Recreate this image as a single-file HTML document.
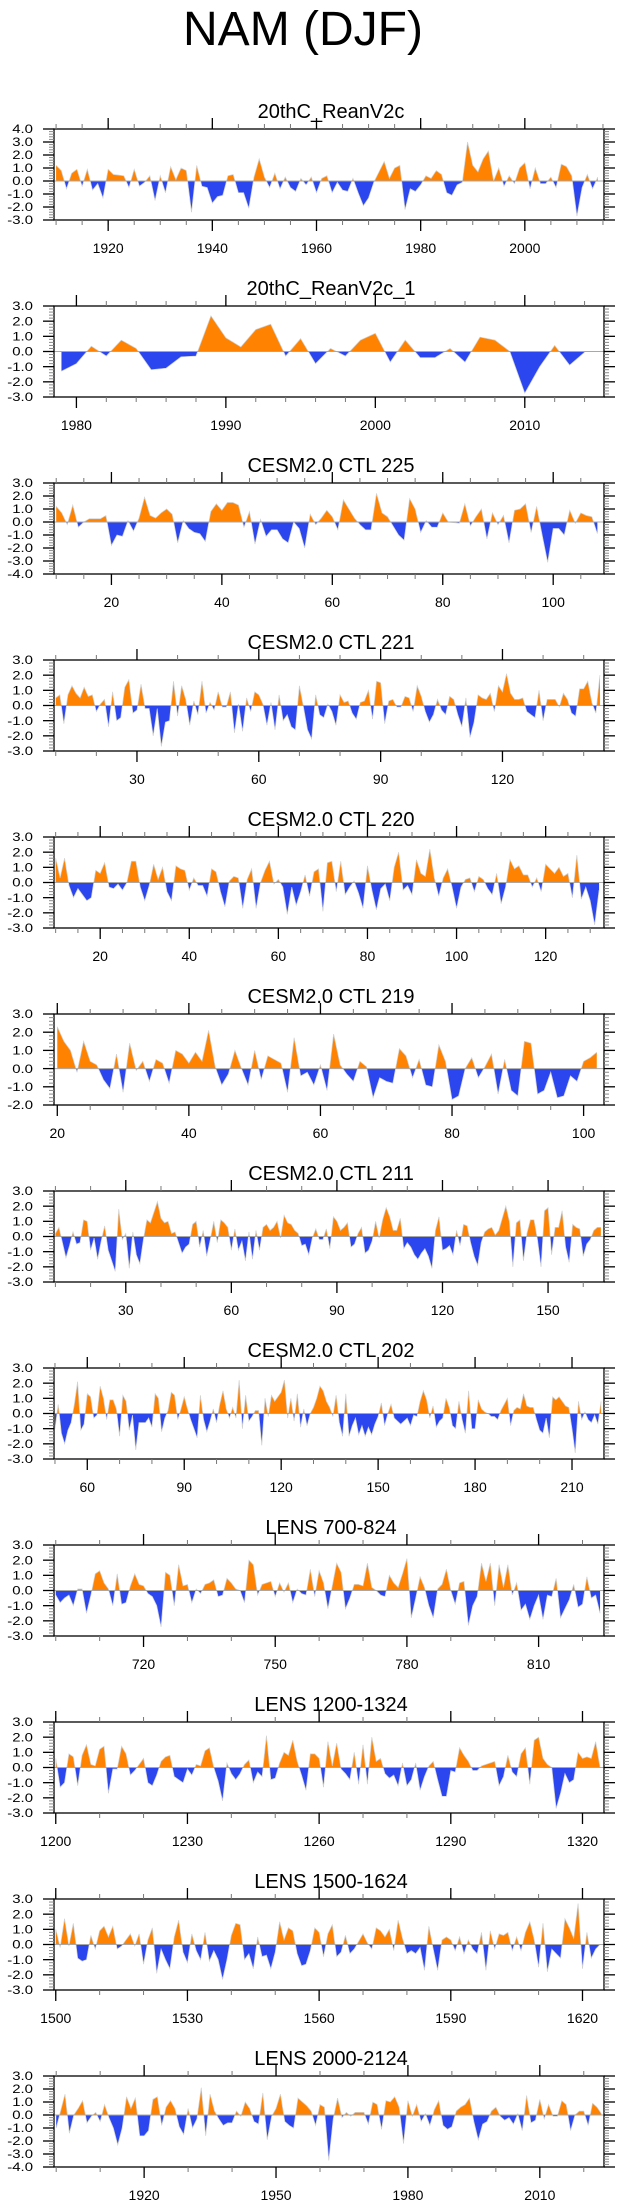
<!DOCTYPE html>
<html><head><meta charset="utf-8"><title>NAM (DJF)</title>
<style>
html,body{margin:0;padding:0;background:#fff;}
svg{display:block;font-family:"Liberation Sans",Arial,sans-serif;}
</style></head>
<body>
<svg id="fig" width="623" height="2209" viewBox="0 0 623 2209" xmlns="http://www.w3.org/2000/svg">
<text x="303" y="45" font-size="48" text-anchor="middle" fill="#000">NAM (DJF)</text>
</svg>
<script>
const titles = ["20thC_ReanV2c","20thC_ReanV2c_1","CESM2.0 CTL 225","CESM2.0 CTL 221","CESM2.0 CTL 220","CESM2.0 CTL 219","CESM2.0 CTL 211","CESM2.0 CTL 202","LENS 700-824","LENS 1200-1324","LENS 1500-1624","LENS 2000-2124"];
const startX = [1910,1979,10,10,10,20,10,50,700,1200,1500,1900];
const xMins = [1909.6,1978.5,9.6,9.57,9.63,19.5,9.6,49.7,699.6,1199.6,1499.6,1899.5];
const xMaxs = [2015.2,2015.3,109.2,145,133.1,103.1,165.9,219.9,824.9,1324.9,1624.9,2024.6];
const yMins = [-3,-3,-4,-3,-3,-2,-3,-3,-3,-3,-3,-4];
const yMaxs = [4,3,3,3,3,3,3,3,3,3,3,3];
const xLabels1 = [1920,1940,1960,1980,2000];
const xLabels2 = [1980,1990,2000,2010];
const xLabels3 = [20,40,60,80,100];
const xLabels4 = [30,60,90,120];
const xLabels5 = [20,40,60,80,100,120];
const xLabels6 = [20,40,60,80,100];
const xLabels7 = [30,60,90,120,150];
const xLabels8 = [60,90,120,150,180,210];
const xLabels9 = [720,750,780,810];
const xLabels10 = [1200,1230,1260,1290,1320];
const xLabels11 = [1500,1530,1560,1590,1620];
const xLabels12 = [1920,1950,1980,2010];
const minorSteps = [5,2,5,10,5,5,10,10,10,10,10,10];

const vals1 = [1.2,0.8,-0.6,0.6,0.9,-0.4,0.9,-0.7,-0.2,-1.3,
0.9,0.5,0.45,0.4,-0.5,0.9,-0.4,-0.1,0.4,-1.5,
0.4,-0.9,1.1,0.1,1.0,0.8,-2.4,1.2,-0.4,-0.5,
-1.7,-1.2,-1.1,0.4,0.5,-0.9,-0.9,-2.1,0.3,1.7,
0.3,-0.5,0.6,-0.6,0.3,-0.5,-0.8,0.2,-0.3,0.3,
-0.9,0.2,0.4,-0.9,-0.1,-0.7,-0.8,0.2,-0.9,-1.9,
-1.3,-0.1,0.7,1.5,0.2,1.0,1.2,-2.2,-0.6,-0.8,
-0.3,0.4,0.2,0.8,0.5,-0.9,-1.1,-0.3,-0.1,3.0,
1.2,0.7,1.7,2.3,0.0,1.0,-0.4,0.4,-0.2,1.0,
1.4,-0.6,1.0,-0.2,-0.2,0.3,-0.5,1.3,1.1,0.4,
-2.7,-0.5,0.5,-0.6,0.3];
const vals2 = [-1.3,-0.8,0.35,-0.3,0.75,0.2,-1.2,-1.1,-0.35,-0.3,2.35,0.9,0.3,1.45,1.8,-0.3,0.85,-0.8,0.2,-0.3,0.75,1.2,-0.7,0.75,-0.4,-0.4,0.2,-0.7,0.95,0.75,0.0,-2.75,-1.0,0.4,-0.9,-0.05];
const vals3 = [1.2,0.7,-0.2,1.3,-0.4,0.0,0.25,0.25,0.25,0.5,
-1.8,-1.0,-1.1,0.1,-0.7,0.3,1.9,0.5,0.3,0.7,
1.0,0.6,-1.6,0.1,-0.5,-0.8,-0.9,-1.5,0.8,1.4,
0.9,1.5,1.5,1.3,-0.4,0.8,-1.7,0.2,-1.1,-0.6,
-0.6,-1.3,-1.6,0.0,-0.5,-2.0,0.6,-0.2,0.3,0.9,
0.4,-0.6,1.7,1.0,0.3,-0.2,-0.6,-0.6,2.2,0.7,
0.4,-0.3,-1.0,-1.4,1.8,1.0,-0.8,0.1,-0.4,-0.4,
0.7,0.0,-0.05,-0.1,1.4,-0.3,0.4,1.0,-1.3,0.7,
-0.2,0.5,-1.6,0.9,1.0,1.4,-0.8,1.2,-1.0,-3.1,
-0.5,-0.5,-1.0,0.9,-0.1,0.7,0.5,0.4,-0.9];
const vals4 = [0.5,0.7,-1.2,0.7,1.3,0.8,0.5,1.2,0.6,0.7,
-0.4,0.1,0.4,-1.4,0.9,-1.0,-0.8,1.2,1.7,-0.5,
-0.3,1.4,-0.2,-0.2,-2.0,-0.2,-2.7,-1.1,-1.0,1.6,
-0.7,1.3,0.4,-1.3,0.3,-0.6,1.6,-0.5,0.2,-0.3,
0.9,-0.1,-0.1,0.9,-1.8,0.1,-1.7,0.5,-0.4,0.9,
0.7,0.1,-1.3,0.2,-1.6,0.7,-1.0,-0.6,-1.4,-1.6,
1.3,-0.1,-1.6,-2.2,0.7,-0.6,-0.8,0.1,-0.4,-1.3,
0.7,0.2,0.3,-0.5,-0.9,0.2,0.3,1.0,-0.9,1.6,
1.5,-1.2,0.3,0.4,-0.1,-0.1,0.6,0.5,-0.4,1.3,
0.6,-0.4,-1.1,-0.6,0.4,-0.3,-0.6,0.6,0.4,-0.6,
-1.4,0.5,-2.1,-1.1,0.7,0.5,0.4,0.8,-0.4,1.3,
0.9,2.1,0.8,0.4,0.4,0.5,-0.4,-0.6,-0.8,1.0,
-1.0,0.4,0.4,0.4,-0.1,0.8,0.4,-0.5,-0.7,1.1,
1.1,1.6,0.2,-0.5,2.0];
const vals5 = [1.6,0.3,1.6,-0.2,-1.0,-0.4,-0.8,-1.2,-1.0,0.8,
0.6,1.3,-0.3,-0.4,-0.1,-0.5,0.0,1.4,1.4,-0.3,
-1.2,-0.2,1.2,0.2,1.0,-0.6,-1.2,1.1,0.9,0.8,
-0.5,0.3,-0.2,-0.2,-0.9,0.9,0.7,-0.6,-1.6,0.1,
0.4,0.3,-1.7,0.2,0.9,-1.7,0.0,0.8,1.4,-0.1,
0.2,-0.3,-2.1,-0.3,-1.5,-0.6,0.5,-0.9,0.7,0.9,
-1.9,1.3,1.4,-0.6,1.4,-0.8,-0.3,0.1,-0.7,-1.7,
1.1,-0.5,-1.8,-0.4,-0.1,-1.2,1.0,2.0,-0.5,-0.2,
-0.8,1.5,0.6,0.4,2.2,0.3,-0.9,0.3,0.9,-0.3,
-1.7,-0.3,0.2,0.3,-0.6,0.4,0.2,-0.4,-0.8,0.6,
-1.4,-0.3,1.5,0.9,1.1,0.5,0.5,-0.3,0.3,-0.6,
1.2,0.9,0.6,1.0,0.4,0.6,-1.0,1.8,-1.1,-0.3,
-1.2,-2.8,-0.5];
const vals6 = [2.3,1.5,1.0,-0.2,1.5,0.4,0.2,-0.6,-1.1,0.8,
-1.3,1.4,-0.1,0.4,-0.7,0.5,0.3,-0.8,1.0,0.8,
0.3,0.9,0.4,2.1,0.1,-0.9,-0.3,1.0,0.0,-0.9,
1.0,-0.6,0.7,0.5,0.3,-1.3,1.7,-0.4,-0.2,-0.9,
0.2,-1.2,1.9,0.2,-0.3,-0.7,0.4,0.1,-1.6,-0.5,
-0.7,-0.8,1.1,0.7,-0.5,0.5,-0.9,-1.0,1.3,0.4,
-1.7,-1.5,0.0,0.6,-0.5,0.1,0.8,-1.4,0.5,-1.2,
-1.5,1.5,1.4,-1.4,-1.2,-0.2,-1.6,-1.5,-0.4,-0.7,
0.4,0.6,0.9];
const vals7 = [0.2,0.6,-0.4,-1.4,-0.6,0.3,-0.5,-0.4,1.1,1.0,
-0.9,-0.1,-1.5,-0.3,0.7,-0.9,-1.6,-2.3,1.8,-0.2,
0.2,-2.1,0.3,-1.2,-1.8,-0.2,1.1,0.9,1.6,2.3,
1.2,0.9,1.0,0.2,0.3,-0.4,-1.1,-0.7,-0.5,0.8,
1.0,-0.7,0.4,-1.3,-0.2,1.0,-0.4,1.1,0.9,0.6,
-0.9,0.5,-0.9,-0.3,-1.6,0.3,-1.5,0.4,-0.9,0.6,
0.8,0.4,0.6,1.0,-0.1,1.4,0.9,0.8,0.4,0.2,
-0.6,-0.5,-1.2,-0.1,0.5,-0.2,-0.2,0.5,-0.8,1.3,
1.0,0.4,0.6,0.9,-0.7,-0.5,0.2,0.6,-1.1,-0.9,
-0.3,1.0,-0.1,1.1,1.9,1.3,0.4,0.4,1.2,-0.8,
-0.4,-0.7,-1.2,-1.5,-1.1,-0.8,-1.3,-2.1,0.4,1.3,
-0.9,-0.8,-0.6,-1.2,0.4,-0.6,0.8,0.7,-0.4,-1.3,
-1.9,-0.4,0.3,0.5,0.6,0.1,0.4,1.2,2.0,1.0,
-2.0,0.9,1.1,-1.6,0.2,1.1,1.1,-0.2,-2.0,1.7,
1.9,-1.2,0.6,0.6,1.7,-0.7,-1.7,0.8,0.6,0.5,
-1.3,-0.5,-0.2,0.4,0.6,0.6];
const vals8 = [-1.0,0.6,-1.3,-2.0,-1.1,-0.6,0.6,2.1,-1.1,-0.7,
1.3,1.1,-0.3,-0.1,1.8,1.0,-0.4,0.9,0.9,0.3,
-1.5,1.2,0.8,-1.1,-0.1,-2.4,-0.6,-0.6,-0.6,-0.3,
-0.9,1.3,1.0,-1.2,-0.3,0.2,1.4,1.2,-0.4,0.3,
1.1,0.3,-0.4,-1.0,-1.6,1.2,-0.4,-1.2,-0.5,0.3,
-0.6,0.6,1.5,0.3,-0.3,0.4,-0.3,2.2,-1.0,1.2,
-0.5,-0.2,0.2,0.2,-2.1,1.0,-0.2,1.2,0.8,1.1,
1.4,2.2,-0.3,1.0,-0.5,1.3,-0.9,0.3,-0.8,0.0,
0.4,1.0,1.8,1.5,0.8,0.4,-0.2,1.2,-0.6,-1.5,
1.3,-1.5,-0.8,-0.3,-1.4,-0.8,-1.5,-0.9,-1.4,-0.7,
-0.2,0.7,-0.8,0.0,0.6,-0.3,-0.5,-0.7,-0.5,-0.3,
-0.8,-0.1,-0.2,0.8,1.5,0.9,-0.3,0.5,-0.9,-0.5,
-0.3,1.0,0.4,-0.8,-1.0,0.8,-0.4,-1.3,1.5,-1.0,
-1.0,0.9,0.3,0.1,0.0,-0.2,-0.2,-0.4,0.2,0.6,
1.0,-0.8,0.2,0.4,0.3,1.3,0.5,0.4,0.4,-0.4,
-1.1,-1.3,-0.3,-1.6,1.1,0.9,1.1,0.8,0.5,0.4,
-1.0,-2.6,0.8,-0.4,0.1,-0.4,-0.6,-0.1,-0.7,0.8];
const vals9 = [-0.3,-0.8,-0.5,-0.3,-1.0,0.1,0.1,-1.5,-0.3,1.1,
1.3,0.5,0.1,-1.0,1.1,-0.9,-0.8,0.3,1.1,0.4,
0.3,-0.2,-0.4,-1.0,-2.4,1.2,1.0,-1.0,1.7,0.3,
0.4,-0.8,0.1,-0.2,0.4,0.5,0.7,-0.4,-0.3,0.8,
0.5,0.1,0.0,-0.8,2.0,1.7,-0.3,0.4,0.5,0.6,
-0.4,0.5,-0.1,0.5,-0.8,0.1,-0.2,-0.3,1.4,-0.4,
1.3,0.5,-1.2,0.3,1.8,1.2,-1.2,-0.5,0.4,0.4,
0.3,1.8,0.2,0.0,-0.3,-0.4,1.0,0.5,0.2,1.1,
2.1,-1.8,-0.5,0.9,0.2,-1.0,-1.8,0.1,0.4,1.4,
0.0,-0.9,0.5,0.6,-2.3,-1.0,-0.4,1.8,0.6,1.8,
-1.0,1.7,0.2,1.7,-0.3,0.5,-1.3,-0.9,-1.9,-1.0,
-0.3,-1.9,-0.3,-0.4,0.8,-1.8,-1.2,-0.6,0.4,-1.1,
-0.9,0.9,-0.5,-0.3,-1.5];
const vals10 = [0.6,-1.3,-1.0,0.9,0.7,-1.2,0.8,1.5,0.2,0.1,
1.2,1.4,-1.7,-0.1,-0.1,1.4,0.9,-0.5,-0.2,0.2,
0.6,-1.0,-1.2,-0.5,0.4,0.7,0.8,-0.6,-0.8,-1.0,
-0.1,-0.5,0.2,0.1,1.1,1.3,0.0,-0.9,-2.2,0.3,
-0.4,-0.8,-0.4,0.2,0.5,-1.0,-0.3,-0.6,2.1,-0.8,
-0.7,0.3,1.0,0.8,1.8,0.4,-0.5,-1.5,0.9,0.9,
0.6,-1.3,1.7,0.1,1.6,-0.1,-0.4,-0.8,1.0,-1.1,
1.5,-1.1,2.0,0.4,0.6,-0.4,-0.7,-0.5,-1.2,0.3,
-1.2,-0.8,0.3,-1.5,-0.6,0.1,0.4,-0.8,-1.9,-1.9,
-0.2,-0.3,1.3,0.8,0.4,-0.2,-0.2,0.1,0.2,0.3,
0.4,-1.2,-0.6,0.8,-0.3,-0.6,0.9,1.3,-1.1,1.8,
2.0,0.6,0.2,0.0,-2.7,-1.7,-0.4,-1.0,-0.8,1.0,
0.6,0.7,0.6,1.7,0.0];
const vals11 = [1.0,-0.2,1.7,-0.1,1.4,-0.9,-1.1,-1.0,0.6,-0.3,
0.9,1.2,0.5,1.2,-0.3,-0.1,0.3,0.7,-0.1,0.7,
-1.3,0.3,1.1,-1.9,-0.3,-1.0,-1.6,0.5,1.6,-0.5,
-1.2,0.7,-0.4,-1.0,0.8,-1.1,-0.4,-1.0,-2.3,-1.0,
0.6,1.4,1.3,-1.0,-0.6,-1.6,0.5,-0.8,-0.7,-1.6,
-0.5,1.5,0.3,1.1,0.9,-0.6,-1.4,-1.3,-0.4,1.1,
0.8,-0.8,0.7,1.3,-0.8,-0.5,0.6,-0.6,-0.3,0.2,
0.7,0.1,-0.3,1.1,0.9,0.5,1.0,-0.4,1.6,0.4,
-0.6,-0.4,-0.6,-0.2,-1.7,1.2,-0.3,-1.7,0.3,0.5,
0.3,-0.4,0.5,-0.6,0.3,-0.3,-0.6,0.8,-1.7,0.9,
-0.3,0.7,0.6,0.8,-0.4,0.5,-0.4,0.8,1.5,0.3,
-1.5,1.4,-1.8,-0.3,-0.6,-0.9,1.7,1.1,0.4,2.7,
-1.6,0.8,-0.9,-0.3,0.0];
const vals12 = [-1.0,0.3,1.6,-1.4,0.0,0.5,1.1,-0.6,-0.1,0.2,
-0.5,0.8,-0.2,-1.0,-2.3,-1.0,1.4,0.5,1.3,-1.6,
-1.6,-1.2,1.2,1.4,-0.8,0.6,1.1,0.5,-0.9,-1.5,
0.5,-1.0,-0.3,2.1,-1.6,1.6,0.3,-0.3,-0.8,-0.6,
-0.6,0.3,-0.1,1.0,0.5,-0.5,-0.7,1.7,-1.9,-0.1,
0.5,1.6,-0.5,-0.8,-1.0,1.3,1.0,0.7,0.3,-0.8,
0.8,0.6,-3.5,-0.3,1.3,-0.2,0.2,-0.1,0.2,0.2,
0.2,-0.7,1.0,0.8,-1.1,1.1,1.0,1.4,0.6,-2.2,
1.1,-0.1,0.8,-0.5,0.1,-0.8,0.4,1.1,-0.8,-1.1,
-0.9,0.3,0.6,0.8,1.3,-0.5,-1.9,-0.7,-0.5,0.3,
0.6,-0.1,-0.4,-0.2,-0.7,0.1,-1.2,1.5,-0.6,-0.4,
1.2,-0.3,0.8,-0.1,-0.1,1.1,0.8,-1.2,0.0,0.3,
0.3,-0.8,0.9,0.6,0.1];

const allVals = [vals1,vals2,vals3,vals4,vals5,vals6,vals7,vals8,vals9,vals10,vals11,vals12];
const allLabels = [xLabels1,xLabels2,xLabels3,xLabels4,xLabels5,xLabels6,xLabels7,xLabels8,xLabels9,xLabels10,xLabels11,xLabels12];

const NS = "http://www.w3.org/2000/svg";
const svg = document.getElementById("fig");
const L = 54, R = 604, W = R - L, H = 91, TOP0 = 129, PITCH = 177;
const ORANGE = "#ff8200", BLUE = "#2b46ee";

function mk(tag, attrs, parent) {
  const e = document.createElementNS(NS, tag);
  for (const k in attrs) e.setAttribute(k, attrs[k]);
  parent.appendChild(e);
  return e;
}
function fmt(v){ return v.toFixed(1); }

for (let p = 0; p < 12; p++) {
  const top = TOP0 + p * PITCH, bot = top + H;
  const xMin = xMins[p], xMax = xMaxs[p], yMin = yMins[p], yMax = yMaxs[p];
  const sx = v => L + (v - xMin) / (xMax - xMin) * W;
  const sy = v => top + (yMax - v) / (yMax - yMin) * H;
  const g = mk("g", {}, svg);
  
  

  const t = mk("text", {x: (L + R) / 2 + 2, y: top - 11, "font-size": 20, "text-anchor": "middle", fill: "#000"}, g);
  t.textContent = titles[p];
  
  

  // clips
  const cidA = "ca" + p, cidB = "cb" + p;
  const defs = mk("defs", {}, g);
  const ca = mk("clipPath", {id: cidA}, defs);
  mk("rect", {x: L, y: top, width: W, height: sy(0) - top}, ca);
  const cb = mk("clipPath", {id: cidB}, defs);
  mk("rect", {x: L, y: sy(0), width: W, height: bot - sy(0)}, cb);

  const vals = allVals[p];
  let d = "M" + sx(startX[p]).toFixed(2) + "," + sy(0).toFixed(2);
  let line = "";
  vals.forEach((v, i) => {
    const px = sx(startX[p] + i).toFixed(2), py = sy(v).toFixed(2);
    d += " L" + px + "," + py;
    line += (i ? " L" : "M") + px + "," + py;
  });
  d += " L" + sx(startX[p] + vals.length - 1).toFixed(2) + "," + sy(0).toFixed(2) + " Z";

  const pos = mk("path", {d: d, fill: ORANGE, "clip-path": "url(#" + cidA + ")"}, g);
  
  
  const neg = mk("path", {d: d, fill: BLUE, "clip-path": "url(#" + cidB + ")"}, g);
  
  
  const ln = mk("path", {d: line, fill: "none", stroke: "#d0d0d0", "stroke-width": 0.7}, g);
  
  

  const zl = mk("line", {x1: L, x2: R, y1: sy(0), y2: sy(0), stroke: "#a8a8a8", "stroke-width": 1}, g);
  
  

  const frame = mk("rect", {x: L, y: top, width: W, height: H, fill: "none", stroke: "#000", "stroke-width": 1.3}, g);
  
  

  // x ticks
  const ms = minorSteps[p];
  for (let v = Math.ceil(xMin / ms) * ms; v <= xMax; v += ms) {
    const x = sx(v);
    mk("line", {x1: x, x2: x, y1: top, y2: top - 5, stroke: "#777", "stroke-width": 1}, g);
    mk("line", {x1: x, x2: x, y1: bot, y2: bot + 5, stroke: "#777", "stroke-width": 1}, g);
  }
  allLabels[p].forEach(v => {
    const x = sx(v);
    mk("line", {x1: x, x2: x, y1: top, y2: top - 11, stroke: "#000", "stroke-width": 1.3}, g);
    mk("line", {x1: x, x2: x, y1: bot, y2: bot + 11, stroke: "#000", "stroke-width": 1.3}, g);
    const lt = mk("text", {x: x, y: bot + 33, "font-size": 14, "text-anchor": "middle", fill: "#000"}, g);
    lt.textContent = String(v);
    
    
  });

  // y ticks
  for (let k = Math.round(yMin * 5); k <= Math.round(yMax * 5); k++) {
    const y = sy(k / 5);
    const major = (k % 5 === 0);
    const len = major ? 11 : 5;
    const col = major ? "#000" : "#888";
    const sw = major ? 1.3 : 1;
    mk("line", {x1: L, x2: L - len, y1: y, y2: y, stroke: col, "stroke-width": sw}, g);
    mk("line", {x1: R, x2: R + len, y1: y, y2: y, stroke: col, "stroke-width": sw}, g);
    if (major) {
      const yt = mk("text", {"font-size": 11.5, "text-anchor": "end", fill: "#000", transform: "translate(33," + (y + 4.2).toFixed(2) + ") scale(1.3,1)"}, g);
      yt.textContent = fmt(k / 5);
      
      
    }
  }
}
</script>
</body></html>
